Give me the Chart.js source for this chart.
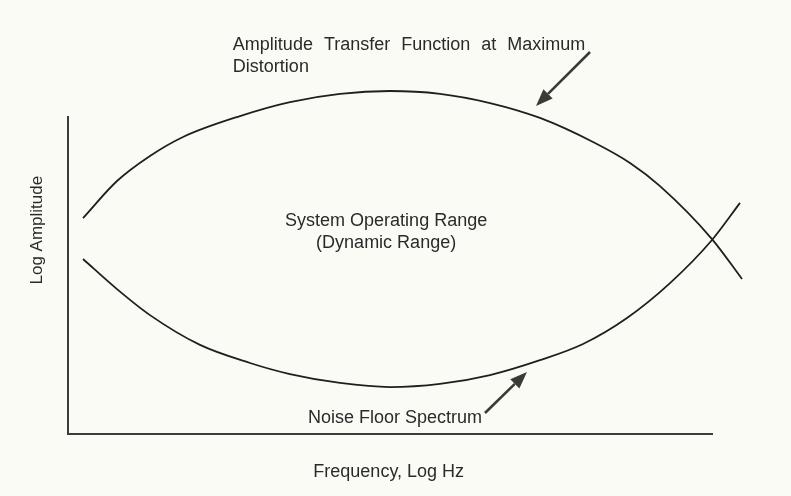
<!DOCTYPE html>
<html><head><meta charset="utf-8">
<script src="https://cdn.jsdelivr.net/npm/chart.js@4/dist/chart.umd.min.js"></script>
<style>html,body{margin:0;padding:0;background:#fbfbf6;}canvas{display:block;}</style>
</head><body>
<canvas id="c" width="791" height="496"></canvas>
<script>
// ---- data (arbitrary log units, axis spans 0..100) ----
const frequencyUpper = [2.33, 7.61, 12.73, 17.86, 26.71, 34.47, 42.24, 50.0, 57.76, 65.53, 73.29, 81.83, 87.27, 91.93, 100.0, 104.66];
const amplitudeUpper = [68.1, 79.8, 87.7, 93.7, 100.3, 104.7, 107.3, 108.2, 107.3, 104.4, 99.7, 91.8, 85.5, 78.2, 61.5, 48.9];
const frequencyLower = [2.33, 7.61, 12.73, 20.5, 28.26, 34.47, 42.24, 50.0, 57.76, 65.53, 73.29, 79.97, 86.8, 93.48, 100.0, 104.35];
const amplitudeLower = [55.2, 45.7, 37.5, 28.1, 22.4, 18.9, 16.1, 14.8, 15.8, 18.6, 23.3, 28.4, 36.6, 47.6, 61.2, 72.9];
const axisRange = [0, 100];
const seriesNames = ['Amplitude Transfer Function at Maximum Distortion', 'Noise Floor Spectrum'];
const xAxisTitle = 'Frequency, Log Hz';
const yAxisTitle = 'Log Amplitude';
const upperLabelLines = ['Amplitude Transfer Function at Maximum', 'Distortion'];
const middleLabelLines = ['System Operating Range', '(Dynamic Range)'];
const lowerLabel = 'Noise Floor Spectrum';

const toPoints = (xs, ys) => xs.map((x, i) => ({x, y: ys[i]}));

const INK = '#2a2a2a';
const FONT = '"Liberation Sans", Arial, Helvetica, sans-serif';

function arrow(ctx, x1, y1, x2, y2) {
  const ang = Math.atan2(y2 - y1, x2 - x1);
  const L = 17, W = 6.5;
  const bx = x2 - L * Math.cos(ang), by = y2 - L * Math.sin(ang);
  ctx.save();
  ctx.strokeStyle = '#3a3a36'; ctx.fillStyle = '#3a3a36';
  ctx.lineWidth = 2.6; ctx.lineCap = 'butt';
  ctx.beginPath(); ctx.moveTo(x1, y1); ctx.lineTo(bx, by); ctx.stroke();
  ctx.beginPath();
  ctx.moveTo(x2, y2);
  ctx.lineTo(bx + W * Math.sin(ang), by - W * Math.cos(ang));
  ctx.lineTo(bx - W * Math.sin(ang), by + W * Math.cos(ang));
  ctx.closePath(); ctx.fill();
  ctx.restore();
}

const decor = {
  id: 'decor',
  beforeDraw(chart) {
    const ctx = chart.ctx;
    ctx.save(); ctx.fillStyle = '#fbfbf6'; ctx.fillRect(0, 0, chart.width, chart.height); ctx.restore();
  },
  afterDraw(chart) {
    const ctx = chart.ctx, xs = chart.scales.x, ys = chart.scales.y;
    const px = v => xs.getPixelForValue(v), py = v => ys.getPixelForValue(v);
    ctx.save();
    ctx.fillStyle = INK;
    ctx.font = '18px ' + FONT;
    ctx.textAlign = 'left'; ctx.textBaseline = 'alphabetic';
    try { ctx.wordSpacing = '6px'; } catch (e) {}
    ctx.fillText(upperLabelLines[0], px(25.6), py(121.1));
    ctx.fillText(upperLabelLines[1], px(25.6), py(114.2));
    try { ctx.wordSpacing = '0px'; } catch (e) {}
    ctx.textAlign = 'center';
    ctx.fillText(middleLabelLines[0], px(49.4), py(65.6));
    ctx.fillText(middleLabelLines[1], px(49.4), py(58.7));
    ctx.textAlign = 'right';
    ctx.fillText(lowerLabel, px(64.3), py(3.47));
    ctx.textAlign = 'center'; ctx.textBaseline = 'middle';
    ctx.fillText(xAxisTitle, px(49.8), py(-12.0));
    ctx.save();
    ctx.translate(px(-4.81), py(64.3));
    ctx.rotate(-Math.PI / 2);
    ctx.font = '17px ' + FONT;
    ctx.fillText(yAxisTitle, 0, 0);
    ctx.restore();
    ctx.restore();
    arrow(ctx, px(81.06), py(120.5), px(72.67), py(103.5));
    arrow(ctx, px(64.75), py(6.62), px(71.27), py(19.56));
  }
};

// fix the visible range without making it a "user bound" (so points past the
// right end of the axis, where the curves cross and continue, are still drawn)
const fixRange = scale => { scale.min = axisRange[0]; scale.max = axisRange[1]; };

const axisCommon = {
  type: 'linear', bounds: 'data',
  afterDataLimits: fixRange,
  ticks: { display: false },
  grid: { display: false, drawTicks: false },
  border: { display: true, color: '#3c3c3c', width: 2 },
  title: { display: false }
};

const lineStyle = {
  borderColor: '#1f1f1f', backgroundColor: '#1f1f1f', borderWidth: 1.8,
  pointRadius: 0, fill: false, cubicInterpolationMode: 'monotone', clip: false
};

new Chart(document.getElementById('c'), {
  type: 'line',
  data: {
    datasets: [
      { label: seriesNames[0], data: toPoints(frequencyUpper, amplitudeUpper), ...lineStyle },
      { label: seriesNames[1], data: toPoints(frequencyLower, amplitudeLower), ...lineStyle }
    ]
  },
  options: {
    responsive: false, animation: false, devicePixelRatio: 1,
    layout: { padding: { left: 68, right: 79, top: 117, bottom: 62 } },
    plugins: { legend: { display: false }, tooltip: { enabled: false }, title: { display: false }, colors: { enabled: false } },
    scales: { x: { ...axisCommon }, y: { ...axisCommon } }
  },
  plugins: [decor]
});
</script>
</body></html>
